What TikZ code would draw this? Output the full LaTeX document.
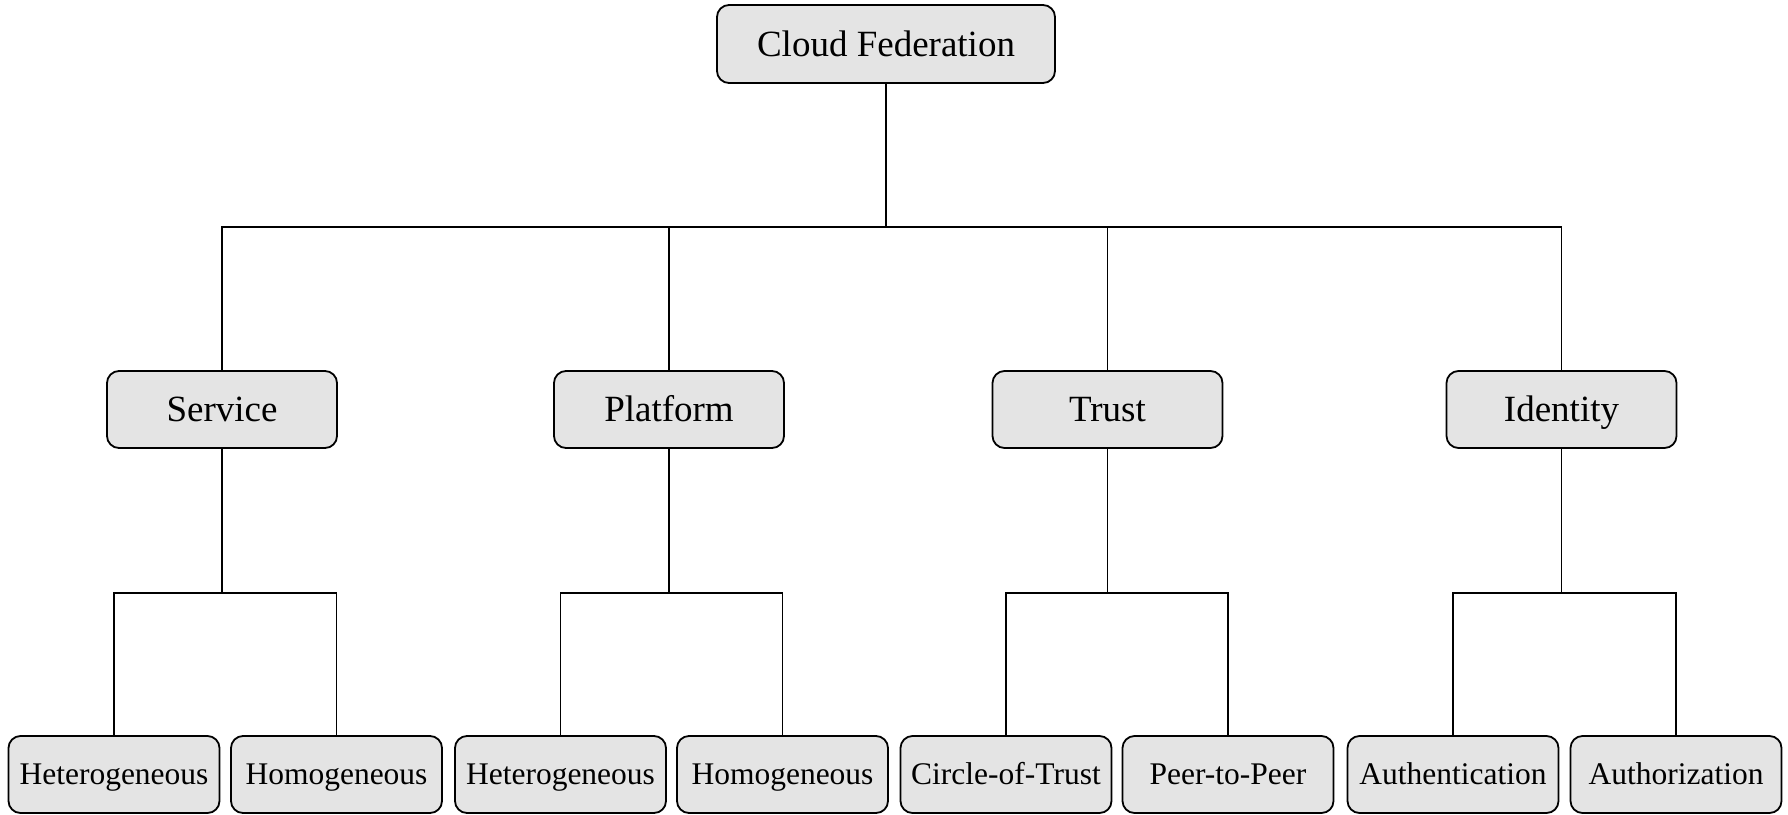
\documentclass[tikz,border=0pt]{standalone}
\usepackage{fontspec}
\setmainfont{Liberation Serif}
\begin{document}
\begin{tikzpicture}[x=1pt,y=-1pt,
  box/.style={draw=black, line width=1.8pt, fill=boxgray, rounded corners=12pt,
    inner sep=0pt, align=center, text depth=0pt},
  rootbox/.style={box, minimum width=338pt, minimum height=78pt,
    text height=24.5pt, font=\fontsize{37}{44}\selectfont},
  midbox/.style={box, minimum width=230pt, minimum height=77pt,
    text height=24.5pt, font=\fontsize{37}{44}\selectfont},
  leafbox/.style={box, minimum width=211pt, minimum height=77pt,
    text height=20.8pt, font=\fontsize{31.5}{38}\selectfont},
  link/.style={draw=black, line width=1.8pt}]
\definecolor{boxgray}{RGB}{228,228,228}
\useasboundingbox (0,0) rectangle (1788,814);

% root and first level
\node[rootbox] (root) at (886,44) {Cloud Federation};
\node[midbox] (svc) at (222,409.5) {Service};
\node[midbox] (plat) at (669,409.5) {Platform};
\node[midbox] (trust) at (1107.5,409.5) {Trust};
\node[midbox] (ident) at (1561.5,409.5) {Identity};

% leaves
\node[leafbox] (svchet) at (114,774.5) {Heterogeneous};
\node[leafbox] (svchom) at (336.5,774.5) {Homogeneous};
\node[leafbox] (plathet) at (560.5,774.5) {Heterogeneous};
\node[leafbox] (plathom) at (782.5,774.5) {Homogeneous};
\node[leafbox] (cot) at (1006,774.5) {Circle-of-Trust};
\node[leafbox] (p2p) at (1228,774.5) {Peer-to-Peer};
\node[leafbox] (authn) at (1453,774.5) {Authentication};
\node[leafbox] (authz) at (1676,774.5) {Authorization};

% bus heights
\coordinate (bus1) at (0,227);
\coordinate (bus2) at (0,593);

% root to first level
\foreach \c in {svc,plat,trust,ident}
  \draw[link] (root.south) -- (root.south |- bus1) -| (\c.north);

% first level to leaves
\foreach \p/\a/\b in {svc/svchet/svchom, plat/plathet/plathom,
                      trust/cot/p2p, ident/authn/authz} {
  \draw[link] (\p.south) -- (\p.south |- bus2) -| (\a.north);
  \draw[link] (\p.south |- bus2) -| (\b.north);
}
\end{tikzpicture}
\end{document}
